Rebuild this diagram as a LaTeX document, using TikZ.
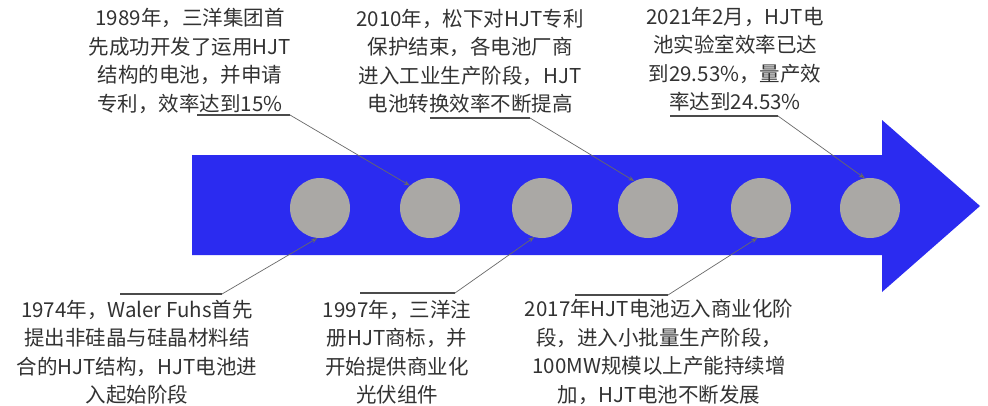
\documentclass[tikz,border=0pt]{standalone}
\usepackage{fontspec}
\setmainfont{Noto Sans CJK SC}
\usetikzlibrary{arrows.meta}
\definecolor{arrowblue}{RGB}{43,43,240}
\definecolor{dotgray}{RGB}{170,168,165}
\definecolor{txtgray}{RGB}{50,50,50}
\definecolor{linegray}{RGB}{105,105,105}
\definecolor{ulgray}{RGB}{75,75,75}
\tikzset{
  dot/.style={circle, fill=dotgray, minimum size=60pt, inner sep=0pt},
  lbl/.style={align=center, text=txtgray, inner sep=0pt, font=\fontsize{20.5}{28.5}\selectfont},
  underl/.style={draw=ulgray, line width=1.4pt},
  callout/.style={draw=linegray, line width=0.7pt, -{Stealth[length=6pt,width=4.5pt,fill=black!80]}},
}
\begin{document}
\begin{tikzpicture}[x=1pt,y=-1pt]
\useasboundingbox[fill=white] (0,0) rectangle (988,405);
% big arrow
\fill[arrowblue] (192,155) -- (882,155) -- (882,120) -- (980,206) -- (882,292) -- (882,255) -- (192,255) -- cycle;
% circles
\node[dot] (c1) at (320,208) {};
\node[dot] (c2) at (430,208) {};
\node[dot] (c3) at (542,208) {};
\node[dot] (c4) at (648,208) {};
\node[dot] (c5) at (761,208) {};
\node[dot] (c6) at (870,208) {};
% labels top
\node[lbl] (t1989) at (190,61) {1989年，三洋集团首\\先成功开发了运用HJT\\结构的电池，并申请\\专利，效率达到15\%};
\node[lbl] (t2010) at (470,61) {2010年，松下对HJT专利\\保护结束，各电池厂商\\进入工业生产阶段，HJT\\电池转换效率不断提高};
\node[lbl] (t2021) at (735,59) {2021年2月，HJT电\\池实验室效率已达\\到29.53\%，量产效\\率达到24.53\%};
% labels bottom
\node[lbl] (t1974) at (137,352) {1974年，Waler Fuhs首先\\提出非硅晶与硅晶材料结\\合的HJT结构，HJT电池进\\入起始阶段};
\node[lbl] (t1997) at (397,352) {1997年，三洋注\\册HJT商标，并\\开始提供商业化\\光伏组件};
\node[lbl] (t2017) at (659,352) {2017年HJT电池迈入商业化阶\\段，进入小批量生产阶段，\\100MW规模以上产能持续增\\加，HJT电池不断发展};
% callout anchors
\coordinate (u1s) at (197,115); \coordinate (u1e) at (290,115);
\coordinate (u2s) at (430,118); \coordinate (u2e) at (530,118);
\coordinate (u3s) at (670,116); \coordinate (u3e) at (778,116);
\coordinate (u4s) at (120,294); \coordinate (u4e) at (222,294);
\coordinate (u5s) at (360,293); \coordinate (u5e) at (455,293);
\coordinate (u6s) at (575,295); \coordinate (u6e) at (668,295);
% underlines
\draw[underl] (u1s) -- (u1e);
\draw[underl] (u2s) -- (u2e);
\draw[underl] (u3s) -- (u3e);
\draw[underl] (u4s) -- (u4e);
\draw[underl] (u5s) -- (u5e);
\draw[underl] (u6s) -- (u6e);
% connectors
\draw[callout] (u1e) -- (c2.132);
\draw[callout] (u2e) -- (c4.117);
\draw[callout] (u3e) -- (c6.100);
\draw[callout] (u4e) -- (c1.-95);
\draw[callout] (u5e) -- (c3.-105);
\draw[callout] (u6e) -- (c5.-97);
\end{tikzpicture}
\end{document}
